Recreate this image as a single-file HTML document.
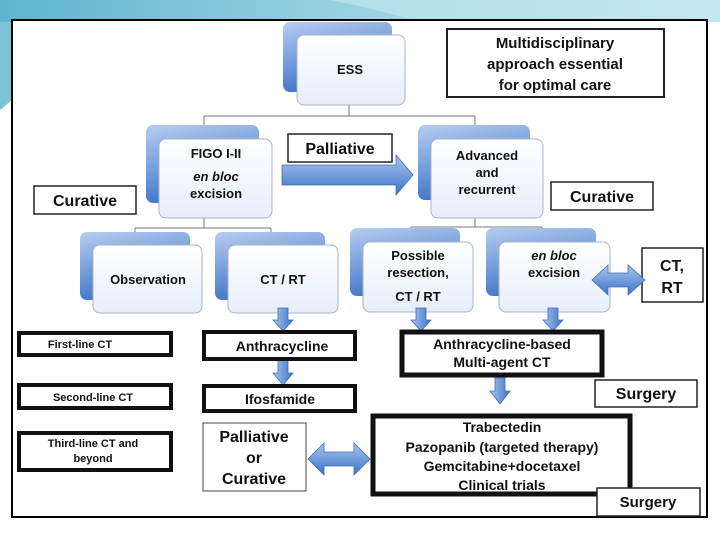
<!DOCTYPE html>
<html><head><meta charset="utf-8"><style>
html,body{margin:0;padding:0;background:#fff;}
svg{display:block;}
text{font-family:"Liberation Sans",Arial,sans-serif;font-weight:bold;fill:#111;}
</style></head><body>
<svg width="720" height="540" viewBox="0 0 720 540" xmlns="http://www.w3.org/2000/svg">
<defs>
<linearGradient id="bk" x1="0" y1="0" x2="0.3" y2="1">
<stop offset="0" stop-color="#b6cdf0"/><stop offset="1" stop-color="#3f74c9"/></linearGradient>
<linearGradient id="fr" x1="0" y1="0" x2="0" y2="1">
<stop offset="0" stop-color="#ffffff"/><stop offset="1" stop-color="#e6eefa"/></linearGradient>
<linearGradient id="ar" x1="0" y1="0" x2="0" y2="1">
<stop offset="0" stop-color="#a9c6ef"/><stop offset="1" stop-color="#3d72c6"/></linearGradient>
<linearGradient id="arv" x1="0" y1="0" x2="1" y2="0">
<stop offset="0" stop-color="#a9c6ef"/><stop offset="1" stop-color="#3d72c6"/></linearGradient>
<linearGradient id="sky" x1="0" y1="0" x2="1" y2="0">
<stop offset="0" stop-color="#5fb4cf"/><stop offset="0.5" stop-color="#9ad2e2"/><stop offset="1" stop-color="#cdebf2"/></linearGradient>
</defs>
<!-- top decoration -->
<rect x="0" y="0" width="720" height="22" fill="url(#sky)"/>
<path d="M0 22 L12 22 L12 100 L0 110 Z" fill="#7cc3d8"/>
<path d="M330 0 Q380 10 420 22 L720 22 L720 0 Z" fill="#bfe5ee" opacity="0.7"/>
<!-- panel -->
<rect x="12" y="20" width="695" height="497" fill="#fff" stroke="#000" stroke-width="2"/>

<!-- connectors -->
<g stroke="#777" stroke-width="1" fill="none">
<path d="M349 105 V116 M204 116 H475 M204 116 V125 M475 116 V125"/>
<path d="M204 218 V228 M135 228 H271 M135 228 V232 M271 228 V232"/>
<path d="M475 218 V227 M411 227 H542 M411 227 V228 M542 227 V228"/>
</g>

<!-- node helper: back + front -->
<g>
<rect x="283" y="22" width="109" height="70" rx="7" fill="url(#bk)"/>
<rect x="297" y="35" width="108" height="70" rx="7" fill="url(#fr)" stroke="#aab4c4"/>
<text x="350" y="74" font-size="13" text-anchor="middle">ESS</text>

<rect x="146" y="125" width="113" height="78" rx="7" fill="url(#bk)"/>
<rect x="159" y="139" width="113" height="79" rx="7" fill="url(#fr)" stroke="#aab4c4"/>
<text x="216" y="158" font-size="13" text-anchor="middle">FIGO I-II</text>
<text x="216" y="181" font-size="13" text-anchor="middle" font-style="italic">en bloc</text>
<text x="216" y="198" font-size="13" text-anchor="middle">excision</text>

<rect x="418" y="125" width="112" height="75" rx="7" fill="url(#bk)"/>
<rect x="431" y="139" width="112" height="79" rx="7" fill="url(#fr)" stroke="#aab4c4"/>
<text x="487" y="160" font-size="13" text-anchor="middle">Advanced</text>
<text x="487" y="177" font-size="13" text-anchor="middle">and</text>
<text x="487" y="194" font-size="13" text-anchor="middle">recurrent</text>

<rect x="80" y="232" width="110" height="68" rx="7" fill="url(#bk)"/>
<rect x="93" y="245" width="109" height="68" rx="7" fill="url(#fr)" stroke="#aab4c4"/>
<text x="148" y="284" font-size="13" text-anchor="middle">Observation</text>

<rect x="215" y="232" width="110" height="68" rx="7" fill="url(#bk)"/>
<rect x="228" y="245" width="110" height="68" rx="7" fill="url(#fr)" stroke="#aab4c4"/>
<text x="283" y="284" font-size="13" text-anchor="middle">CT / RT</text>

<rect x="350" y="228" width="110" height="68" rx="7" fill="url(#bk)"/>
<rect x="363" y="242" width="110" height="70" rx="7" fill="url(#fr)" stroke="#aab4c4"/>
<text x="418" y="260" font-size="13" text-anchor="middle">Possible</text>
<text x="418" y="277" font-size="13" text-anchor="middle">resection,</text>
<text x="418" y="301" font-size="13" text-anchor="middle">CT / RT</text>

<rect x="486" y="228" width="110" height="68" rx="7" fill="url(#bk)"/>
<rect x="499" y="242" width="111" height="70" rx="7" fill="url(#fr)" stroke="#aab4c4"/>
<text x="554" y="260" font-size="13" text-anchor="middle" font-style="italic">en bloc</text>
<text x="554" y="277" font-size="13" text-anchor="middle">excision</text>
</g>

<!-- label boxes -->
<rect x="447" y="29" width="217" height="68" fill="#fff" stroke="#222" stroke-width="2"/>
<text x="555" y="48" font-size="15" text-anchor="middle">Multidisciplinary</text>
<text x="555" y="69" font-size="15" text-anchor="middle">approach essential</text>
<text x="555" y="90" font-size="15" text-anchor="middle">for optimal care</text>

<rect x="288" y="134" width="104" height="28" fill="#fff" stroke="#222" stroke-width="1.5"/>
<text x="340" y="154" font-size="16" text-anchor="middle">Palliative</text>

<rect x="34" y="186" width="102" height="28" fill="#fff" stroke="#222" stroke-width="1.5"/>
<text x="85" y="206" font-size="16" text-anchor="middle">Curative</text>

<rect x="551" y="182" width="102" height="28" fill="#fff" stroke="#222" stroke-width="1.5"/>
<text x="602" y="202" font-size="16" text-anchor="middle">Curative</text>

<rect x="642" y="248" width="61" height="54" fill="#fff" stroke="#222" stroke-width="1.5"/>
<text x="672" y="271" font-size="16" text-anchor="middle">CT,</text>
<text x="672" y="293" font-size="16" text-anchor="middle">RT</text>

<!-- big arrow -->
<path d="M282 165 H396 V155 L413 175 L396 195 V185 H282 Z" fill="url(#ar)" stroke="#3d6fb8" stroke-width="0.8"/>
<!-- double arrows -->
<path d="M592 280 L608 265 V273 H628 V265 L645 280 L628 295 V287 H608 V295 Z" fill="url(#ar)" stroke="#3d6fb8" stroke-width="0.8"/>
<path d="M308 459 L324 443 V452 H354 V443 L370 459 L354 475 V466 H324 V475 Z" fill="url(#ar)" stroke="#3d6fb8" stroke-width="0.8"/>
<!-- small down arrows -->
<g fill="url(#arv)" stroke="#3d6fb8" stroke-width="0.8">
<path d="M278 308 H288 V320 H293 L283 331 L273 320 H278 Z"/>
<path d="M416 308 H426 V320 H431 L421 331 L411 320 H416 Z"/>
<path d="M548 308 H558 V320 H563 L553 331 L543 320 H548 Z"/>
<path d="M278 360 H288 V373 H293 L283 385 L273 373 H278 Z"/>
<path d="M495 378 H505 V391 H510 L500 404 L490 391 H495 Z"/>
</g>

<!-- line labels -->
<rect x="19" y="333" width="152" height="22" fill="#fff" stroke="#111" stroke-width="4"/>
<text x="80" y="348" font-size="11" text-anchor="middle">First-line CT</text>
<rect x="19" y="385" width="152" height="23" fill="#fff" stroke="#111" stroke-width="4"/>
<text x="93" y="401" font-size="11" text-anchor="middle">Second-line CT</text>
<rect x="19" y="433" width="152" height="37" fill="#fff" stroke="#111" stroke-width="4"/>
<text x="93" y="447" font-size="11" text-anchor="middle">Third-line CT and</text>
<text x="93" y="462" font-size="11" text-anchor="middle">beyond</text>

<rect x="204" y="332" width="151" height="27" fill="#fff" stroke="#111" stroke-width="4"/>
<text x="282" y="351" font-size="14" text-anchor="middle">Anthracycline</text>
<rect x="204" y="386" width="151" height="25" fill="#fff" stroke="#111" stroke-width="4"/>
<text x="280" y="404" font-size="14" text-anchor="middle">Ifosfamide</text>

<rect x="402" y="332" width="200" height="43" fill="#fff" stroke="#111" stroke-width="5"/>
<text x="502" y="349" font-size="14" text-anchor="middle">Anthracycline-based</text>
<text x="502" y="367" font-size="14" text-anchor="middle">Multi-agent CT</text>

<rect x="595" y="380" width="102" height="27" fill="#fff" stroke="#222" stroke-width="1.5"/>
<text x="646" y="399" font-size="16" text-anchor="middle">Surgery</text>

<rect x="203" y="423" width="103" height="68" fill="#fff" stroke="#444" stroke-width="1"/>
<text x="254" y="442" font-size="16" text-anchor="middle">Palliative</text>
<text x="254" y="463" font-size="16" text-anchor="middle">or</text>
<text x="254" y="484" font-size="16" text-anchor="middle">Curative</text>

<rect x="373" y="416" width="257" height="78" fill="#fff" stroke="#111" stroke-width="5"/>
<text x="502" y="432" font-size="14" text-anchor="middle">Trabectedin</text>
<text x="502" y="452" font-size="14" text-anchor="middle">Pazopanib (targeted therapy)</text>
<text x="502" y="471" font-size="14" text-anchor="middle">Gemcitabine+docetaxel</text>
<text x="502" y="490" font-size="14" text-anchor="middle">Clinical trials</text>

<rect x="597" y="488" width="103" height="28" fill="#fff" stroke="#222" stroke-width="1.5"/>
<text x="648" y="507" font-size="15" text-anchor="middle">Surgery</text>
</svg>
</body></html>
